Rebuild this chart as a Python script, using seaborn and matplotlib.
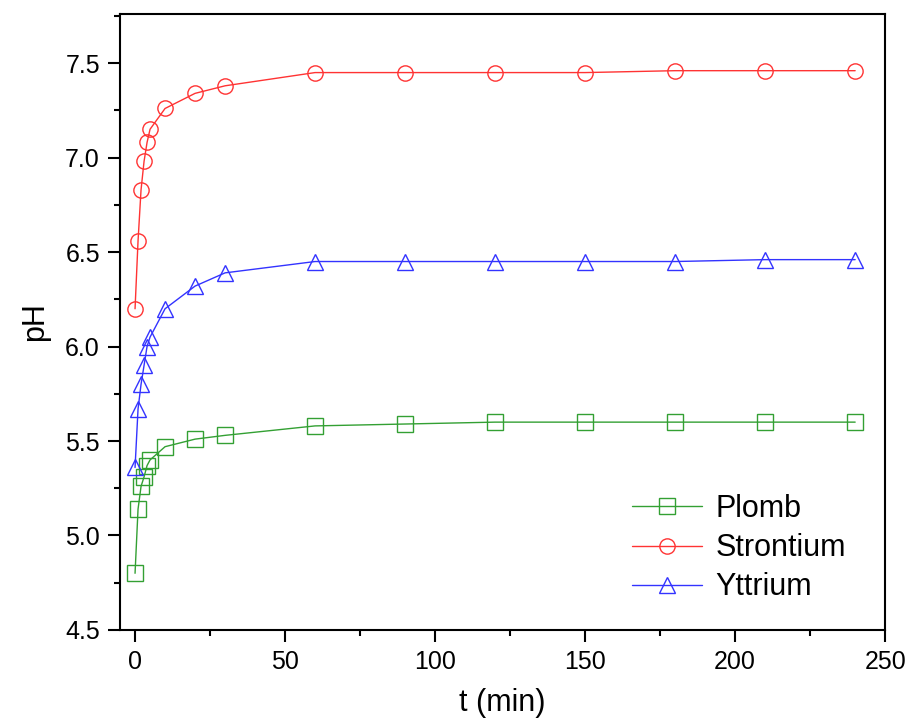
import matplotlib

matplotlib.use("Agg")
import matplotlib.pyplot as plt
import pandas
import seaborn
from matplotlib.ticker import FormatStrFormatter, MultipleLocator

t_min = [0, 1, 2, 3, 4, 5, 10, 20, 30, 60, 90, 120, 150, 180, 210, 240]
ph_plomb = [4.80, 5.14, 5.26, 5.31, 5.37, 5.40, 5.47, 5.51, 5.53, 5.58, 5.59, 5.60, 5.60, 5.60, 5.60, 5.60]
ph_strontium = [6.20, 6.56, 6.83, 6.98, 7.08, 7.15, 7.26, 7.34, 7.38, 7.45, 7.45, 7.45, 7.45, 7.46, 7.46, 7.46]
ph_yttrium = [5.36, 5.67, 5.80, 5.90, 6.00, 6.05, 6.20, 6.32, 6.39, 6.45, 6.45, 6.45, 6.45, 6.45, 6.46, 6.46]

series = [
    ("Plomb", ph_plomb, "#33a033", "s"),
    ("Strontium", ph_strontium, "#ff3333", "o"),
    ("Yttrium", ph_yttrium, "#3333ff", "^"),
]

seaborn.set_theme(style="ticks", rc={
    "text.color": "black", "axes.labelcolor": "black", "axes.edgecolor": "black",
    "xtick.color": "black", "ytick.color": "black",
})
plt.rcParams["font.family"] = ["Liberation Sans", "DejaVu Sans"]

fig, ax = plt.subplots(figsize=(9.06, 7.18), dpi=100)
fig.subplots_adjust(left=0.1325, right=0.977, top=0.9805, bottom=0.1226)

for name, values, color, marker in series:
    df = pandas.DataFrame({"t": t_min, "pH": values})
    seaborn.lineplot(
        data=df, x="t", y="pH", ax=ax, color=color, marker=marker, markersize=11,
        markerfacecolor="none", markeredgecolor=color, markeredgewidth=1.0,
        linewidth=1.0, label=name,
    )

ax.set_xlim(-5, 250)
ax.set_ylim(4.5, 7.76)
ax.xaxis.set_major_locator(MultipleLocator(50))
ax.xaxis.set_minor_locator(MultipleLocator(25))
ax.yaxis.set_major_locator(MultipleLocator(0.5))
ax.yaxis.set_minor_locator(MultipleLocator(0.25))
ax.yaxis.set_major_formatter(FormatStrFormatter("%.1f"))
ax.tick_params(which="major", direction="out", length=8.5, width=1.5, labelsize=18, pad=6)
ax.tick_params(which="minor", direction="out", length=4, width=1.5)
for spine in ax.spines.values():
    spine.set_linewidth(1.5)
    spine.set_visible(True)

ax.set_xlabel("t (min)", fontsize=22, labelpad=10)
ax.set_ylabel("pH", fontsize=22, labelpad=11)

ax.legend(loc="lower right", frameon=False, fontsize=22, handlelength=2.3,
          handletextpad=0.45, labelspacing=0.3, bbox_to_anchor=(0.985, 0.0))

fig.savefig("out.png", dpi=100)
